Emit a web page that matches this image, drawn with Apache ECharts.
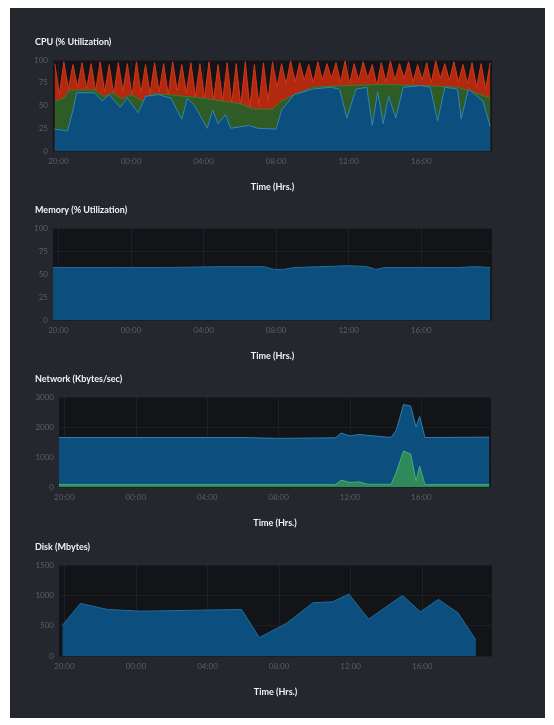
<!DOCTYPE html>
<html><head><meta charset="utf-8">
<script src="https://cdn.jsdelivr.net/npm/echarts@6/dist/echarts.min.js"></script>
<style>
html,body{margin:0;padding:0;background:#fff;}
#panel{position:absolute;left:10px;top:8px;width:535px;height:710px;background:#25272e;}
#c{position:absolute;left:0;top:0;width:554px;height:725px;}
</style></head><body>
<div id="panel"></div><div id="c"></div>
<script>
const timeTicks = [0,4,8,12,16,20];
const timeLabels = ['20:00','00:00','04:00','08:00','12:00','16:00'];
const titles = ['CPU (% Utilization)','Memory (% Utilization)','Network (Kbytes/sec)','Disk (Mbytes)'];

// CPU: total (red top), 15-min samples starting at -0.2h
const cpuStart = -0.2, cpuStep = 0.25;
const cpuTotal = [96,62,98,68,95,70,97,68,96,66,
 98,65,95,62,97,66,96,60,98,64,95,63,97,65,96,62,98,66,95,64,97,60,
 96,58,98,56,95,55,97,52,96,50,98,48,95,50,97,55,
 98,70,96,74,99,76,97,78,95,75,98,78,96,80,97,76,99,74,96,78,98,80,95,72,97,76,99,78,96,80,98,76,95,78,97,75,99,80,96,78,98,76,95,74,97,70,96,68,97];
const cpuGreen = [[-0.2,55],[0.3,58],[0.6,67],[2,67],[2.5,60],[3,64],[3.5,57],[4,62],[4.6,55],[5.2,63],[6,62],[7,60],[8,58],[9,55],[10,52],[10.8,46],[11.8,46],[12.3,55],[13,62],[14,70],[16,72],[18,73],[20,72],[22,70],[23,64],[23.8,58]];
const cpuBlue = [[-0.2,24],[0.5,22],[0.8,45],[1,64],[2,64],[2.4,55],[2.8,62],[3.4,48],[3.8,58],[4.4,42],[4.8,60],[5.5,62],[6.2,58],[6.8,35],[7.1,58],[7.5,50],[8.2,25],[8.5,45],[8.8,30],[9.2,40],[9.5,25],[10.5,28],[11,25],[12,24],[12.3,45],[13,62],[14,68],[15,70],[15.5,68],[15.9,36],[16.4,68],[17,70],[17.3,28],[17.6,65],[17.9,30],[18.2,60],[18.6,36],[19,70],[20,72],[20.5,70],[20.9,33],[21.3,70],[22,68],[22.2,35],[22.6,68],[23.4,55],[23.8,27]];
const memory = [[-0.3,57],[3,57],[6,57],[9,58],[11.3,58],[11.9,55],[12.4,55],[13,57],[16,59],[17,58],[17.5,55],[18,57],[22,57],[23,58],[23.8,57]];
const netBlue = [[-0.3,1650],[10,1650],[12,1620],[15.2,1640],[15.5,1800],[16,1700],[16.5,1750],[17,1720],[18.3,1650],[18.6,1900],[19,2750],[19.4,2700],[19.7,2000],[19.9,2350],[20.2,1650],[23.8,1660]];
const netGreen = [[-0.3,80],[15.2,80],[15.5,230],[16,150],[16.5,170],[17,90],[18.3,90],[18.6,500],[19,1200],[19.4,1100],[19.7,200],[19.9,700],[20.2,80],[23.8,80]];
const disk = [[-0.1,507],[0.9,866],[2.4,767],[4.3,739],[9.9,767],[10.9,303],[12.4,535],[13.9,877],[15.0,893],[15.9,1020],[17.0,607],[18.9,998],[19.9,728],[20.9,932],[22.0,711],[23.0,259]];
const yMax = [100,100,3000,1500];
const yInt = [25,25,1000,500];

const cpuTotalPts = cpuTotal.map((v,i)=>[cpuStart+i*cpuStep,v]);
const grids = [
 {left:53,top:60,width:439,height:91},
 {left:53,top:228,width:439,height:92},
 {left:59,top:397,width:432,height:90},
 {left:59,top:565,width:433,height:91}
];
const chart = echarts.init(document.getElementById('c'));
const lbl = {color:'#5a5e66',fontSize:8,fontFamily:'Lato'};
const opt = {
 backgroundColor:'transparent', animation:false,
 title: titles.map((t,i)=>({text:t,left:30,top:grids[i].top-27,textStyle:{color:'#f2f2f2',fontSize:9,fontWeight:'bold',fontFamily:'Lato'}})),
 grid: grids.map(g=>Object.assign({show:true,backgroundColor:'#131418',borderWidth:0},g)),
 xAxis: grids.map((g,i)=>({type:'value',gridIndex:i,min:-0.3,max:23.9,
   name:'Time (Hrs.)',nameLocation:'middle',nameGap:32,nameTextStyle:{color:'#f2f2f2',fontSize:9,fontWeight:'bold',fontFamily:'Lato'},
   axisLine:{show:false},axisTick:{show:false,customValues:timeTicks},
   axisLabel:Object.assign({customValues:timeTicks,formatter:v=>timeLabels[timeTicks.indexOf(Math.round(v))]||'',margin:6},lbl),
   splitLine:{show:true,lineStyle:{color:'#1e2026',width:1}}})),
 yAxis: grids.map((g,i)=>({type:'value',gridIndex:i,min:0,max:yMax[i],interval:yInt[i],
   axisLine:{show:false},axisTick:{show:false},axisLabel:Object.assign({margin:5,formatter:v=>String(v)},lbl),
   splitLine:{show:true,lineStyle:{color:'#1c1e23'}}})),
 series: []
};
function area(data,i,fill,line,z){
 opt.series.push({type:'line',xAxisIndex:i,yAxisIndex:i,data:data,showSymbol:false,z:z,
  lineStyle:{color:line,width:1},areaStyle:{color:fill,opacity:1}});
}
area(cpuTotalPts,0,'#b3290f','#d2381a',2);
area(cpuGreen,0,'#2f5b27','#3f7a33',3);
area(cpuBlue,0,'#0c4f7f','#2f86b3',4);
area(memory,1,'#0c4f7f','#1f6c9c',2);
area(netBlue,2,'#0c4f7f','#2a7fb0',2);
area(netGreen,2,'#2e8a5a','#44b077',3);
area(disk,3,'#0c4f7f','#1f6c9c',2);
chart.setOption(opt);
</script></body></html>
